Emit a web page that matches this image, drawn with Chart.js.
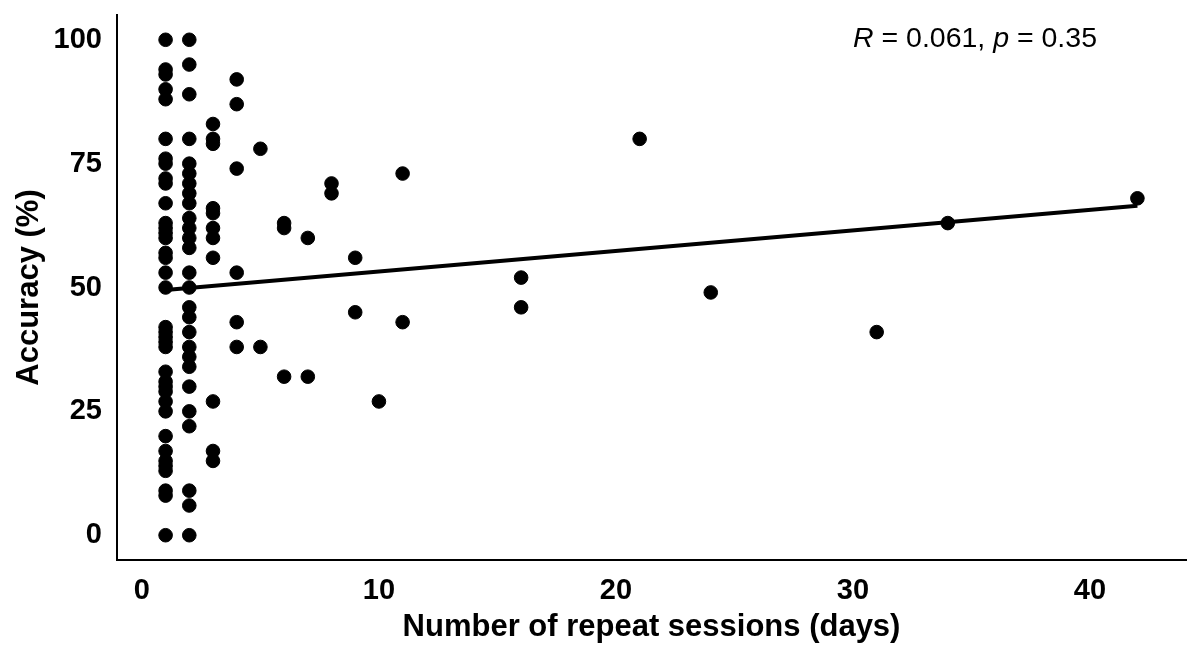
<!DOCTYPE html>
<html lang="en">
  <head>
    <meta charset="UTF-8" />
    <title>Accuracy vs repeat sessions</title>
    <style>
      body { margin: 0; background: #fff; }
      .chartContainer { width: 1200px; height: 657px; }
    </style>
    <script src="https://cdn.jsdelivr.net/npm/chart.js"></script>
  </head>
  <body>
    <div class="chartContainer">
      <canvas id="scatterChart" width="1200" height="657"></canvas>
    </div>
    <script>
      // x = number of repeat sessions (days), y = accuracy (%)
      const sessions = [
        1, 1, 1, 1, 1, 1, 1, 1, 1, 1, 1, 1, 1, 1, 1, 1, 1, 1, 1,
        1, 1, 1, 1, 1, 1, 1, 1, 1, 1, 1, 1, 1, 1, 1, 1, 1, 1, 1,
        2, 2, 2, 2, 2, 2, 2, 2, 2, 2, 2, 2, 2, 2,
        2, 2, 2, 2, 2, 2, 2, 2, 2, 2, 2, 2, 2,
        3, 3, 3, 3, 3, 3, 3, 3, 3, 3, 3,
        4, 4, 4, 4, 4, 4,
        5, 5, 6, 6, 6, 7, 7, 8, 8, 9, 9, 10, 11, 11,
        16, 16, 21, 24, 31, 34, 42
      ];
      const accuracy = [
        100, 94, 93, 90, 88, 80, 76, 75, 72, 71, 67, 63, 62, 61, 60, 57, 56, 53, 50,
        42, 41, 40, 39, 38, 33, 31, 30, 29, 27, 25, 20, 17, 15, 14, 13, 9, 8, 0,
        100, 95, 89, 80, 75, 73, 71, 69, 67, 64, 62, 60, 58, 53,
        50, 46, 44, 41, 38, 36, 34, 30, 25, 22, 9, 6, 0,
        83, 80, 79, 66, 65, 62, 60, 56, 27, 17, 15,
        92, 87, 74, 53, 43, 38,
        78, 38, 63, 62, 32, 60, 32, 71, 69, 56, 45, 27, 73, 43,
        52, 46, 80, 49, 41, 63, 68
      ];
      // fitted line end points
      const fitX = [1, 42];
      const fitY = [49.5, 66.5];

      const xTicks = [0, 10, 20, 30, 40];
      const yTicks = [0, 25, 50, 75, 100];
      const statLabel = [
        { text: "R", italic: true },
        { text: " = 0.061, ", italic: false },
        { text: "p", italic: true },
        { text: " = 0.35", italic: false },
      ];

      const points = sessions.map((d, i) => ({ x: d, y: accuracy[i] }));
      const fitPoints = fitX.map((d, i) => ({ x: d, y: fitY[i] }));

      const fontFamily = "'Liberation Sans', Arial, sans-serif";

      // draws the correlation label in the top right
      const statPlugin = {
        id: "statLabel",
        afterDraw(chart) {
          const ctx = chart.ctx;
          let x = chart.scales.x.getPixelForValue(30);
          const y = chart.scales.y.getPixelForValue(100) - 1;
          ctx.save();
          ctx.fillStyle = "#000";
          ctx.textBaseline = "middle";
          ctx.textAlign = "left";
          statLabel.forEach((part) => {
            ctx.font = (part.italic ? "italic " : "") + "28.5px " + fontFamily;
            ctx.fillText(part.text, x, y);
            x += ctx.measureText(part.text).width;
          });
          ctx.restore();
        },
      };

      const ctx = document.getElementById("scatterChart").getContext("2d");
      new Chart(ctx, {
        type: "scatter",
        data: {
          datasets: [
            {
              type: "line",
              data: fitPoints,
              borderColor: "#000",
              borderWidth: 4,
              pointRadius: 0,
              fill: false,
              order: 2,
            },
            {
              data: points,
              backgroundColor: "#000",
              borderColor: "#000",
              pointRadius: 6.8,
              pointHoverRadius: 6.8,
              order: 1,
            },
          ],
        },
        options: {
          responsive: false,
          animation: false,
          devicePixelRatio: 1,
          layout: { padding: { top: 15, right: 14, left: 0, bottom: 0 } },
          plugins: {
            legend: { display: false },
            tooltip: { enabled: false },
          },
          scales: {
            x: {
              type: "linear",
              min: -1.05,
              max: 44.05,
              afterBuildTicks: (scale) => {
                scale.ticks = xTicks.map((v) => ({ value: v }));
              },
              afterFit: (scale) => {
                scale.height = 97;
                scale.paddingLeft = 0;
                scale.paddingRight = 0;
              },
              grid: { drawOnChartArea: false, drawTicks: false },
              border: { display: true, color: "#000", width: 2 },
              ticks: {
                padding: 14,
                color: "#000",
                font: { family: fontFamily, size: 29, weight: "bold" },
              },
              title: {
                display: true,
                text: "Number of repeat sessions (days)",
                color: "#000",
                font: { family: fontFamily, size: 31, weight: "bold" },
                padding: { top: 0, bottom: 11 },
              },
            },
            y: {
              type: "linear",
              min: -5,
              max: 105,
              afterBuildTicks: (scale) => {
                scale.ticks = yTicks.map((v) => ({ value: v }));
              },
              afterFit: (scale) => {
                scale.width = 117;
                scale.paddingTop = 0;
                scale.paddingBottom = 0;
              },
              grid: { drawOnChartArea: false, drawTicks: false },
              border: { display: true, color: "#000", width: 2 },
              ticks: {
                padding: 15,
                color: "#000",
                font: { family: fontFamily, size: 29, weight: "bold" },
              },
              title: {
                display: true,
                text: "Accuracy (%)",
                color: "#000",
                font: { family: fontFamily, size: 31, weight: "bold" },
                padding: { top: 11, bottom: 0 },
              },
            },
          },
        },
        plugins: [statPlugin],
      });
    </script>
  </body>
</html>
